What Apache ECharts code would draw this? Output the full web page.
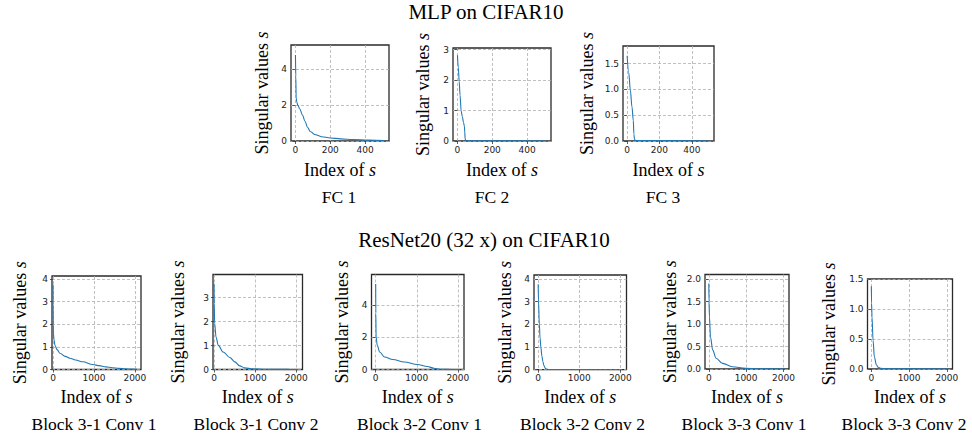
<!DOCTYPE html>
<html><head><meta charset="utf-8">
<script src="https://cdn.jsdelivr.net/npm/echarts@6/dist/echarts.min.js"></script>
<style>html,body{margin:0;padding:0;background:#fff}#c{width:972px;height:438px}</style>
</head><body><div id="c"></div>
<script>
// ---------- data ----------
const mlpTitle = 'MLP on CIFAR10';
const resTitle = 'ResNet20 (32 x) on CIFAR10';
const panelNames = ['FC 1', 'FC 2', 'FC 3',
  'Block 3-1 Conv 1', 'Block 3-1 Conv 2', 'Block 3-2 Conv 1',
  'Block 3-2 Conv 2', 'Block 3-3 Conv 1', 'Block 3-3 Conv 2'];

const fc1Index = [0, 2, 4, 8, 14, 25, 40, 55, 70, 85, 110, 150, 200, 260, 330, 420, 511];
const fc1Value = [4.77, 3.6, 2.4, 2.15, 1.98, 1.78, 1.45, 1.1, 0.75, 0.53, 0.36, 0.24, 0.17, 0.12, 0.08, 0.05, 0.02];
const fc2Index = [0, 5, 10, 15, 21, 28, 35, 40, 42, 44, 47, 55, 511];
const fc2Value = [2.81, 2.4, 1.95, 1.5, 1.0, 0.8, 0.6, 0.48, 0.3, 0.08, 0.02, 0.005, 0.0];
const fc3Index = [0, 10, 20, 30, 38, 42, 45, 50, 511];
const fc3Value = [1.65, 1.32, 0.98, 0.66, 0.4, 0.13, 0.04, 0.01, 0.0];
const b31c1Index = [0, 2, 5, 10, 25, 50, 100, 170, 300, 410, 550, 730, 970, 1130, 1290, 1450, 1610, 1770, 1930, 2047];
const b31c1Value = [3.76, 3.0, 2.0, 1.6, 1.3, 1.05, 0.88, 0.72, 0.58, 0.5, 0.42, 0.34, 0.22, 0.17, 0.115, 0.08, 0.05, 0.03, 0.015, 0.005];
const b31c2Index = [0, 5, 16, 48, 103, 223, 384, 504, 624, 744, 944, 1260, 1820, 2047];
const b31c2Value = [3.58, 2.75, 1.92, 1.36, 1.01, 0.73, 0.5, 0.32, 0.15, 0.07, 0.025, 0.01, 0.004, 0.0];
const b32c1Index = [0, 3, 10, 38, 96, 216, 416, 697, 1017, 1257, 1418, 1577, 1740, 2047];
const b32c1Value = [5.31, 3.5, 2.01, 1.5, 1.09, 0.78, 0.62, 0.47, 0.31, 0.185, 0.08, 0.02, 0.005, 0.0];
const b32c2Index = [0, 8, 28, 45, 65, 90, 115, 140, 170, 200, 260, 2047];
const b32c2Value = [3.76, 3.0, 2.0, 1.4, 1.0, 0.6, 0.35, 0.18, 0.07, 0.03, 0.01, 0.0];
const b33c1Index = [0, 5, 18, 45, 105, 195, 370, 630, 985, 1300, 2047];
const b33c1Value = [1.9, 1.5, 1.16, 0.71, 0.42, 0.24, 0.125, 0.05, 0.015, 0.005, 0.0];
const b33c2Index = [0, 5, 18, 45, 80, 133, 180, 240, 400, 2047];
const b33c2Value = [1.38, 1.1, 0.87, 0.48, 0.2, 0.07, 0.03, 0.01, 0.003, 0.0];

const topXTicks = [0, 200, 400];
const bottomXTicks = [0, 1000, 2000];
const fc1YTicks = [0, 2, 4];
const fc2YTicks = [0, 1, 2, 3];
const fc3YTicks = [0, 0.5, 1.0, 1.5];
const b31c1YTicks = [0, 1, 2, 3, 4];
const b31c2YTicks = [0, 1, 2, 3];
const b32c1YTicks = [0, 2, 4];
const b32c2YTicks = [0, 1, 2, 3, 4];
const b33c1YTicks = [0, 0.5, 1.0, 1.5, 2.0];
const b33c2YTicks = [0, 0.5, 1.0, 1.5];

const seriesIndex = [fc1Index, fc2Index, fc3Index, b31c1Index, b31c2Index, b32c1Index, b32c2Index, b33c1Index, b33c2Index];
const seriesValue = [fc1Value, fc2Value, fc3Value, b31c1Value, b31c2Value, b32c1Value, b32c2Value, b33c1Value, b33c2Value];
const yTicks = [fc1YTicks, fc2YTicks, fc3YTicks, b31c1YTicks, b31c2YTicks, b32c1YTicks, b32c2YTicks, b33c1YTicks, b33c2YTicks];
const xTicks = [topXTicks, topXTicks, topXTicks, bottomXTicks, bottomXTicks, bottomXTicks, bottomXTicks, bottomXTicks, bottomXTicks];

// ---------- layout ----------
const layout = [
  {l: 291, t: 45, w: 98, h: 96, xMin: -25.6, xMax: 537.6, xInt: 200, yMax: 5.33, yInt: 2, dec: 0, gy: 20, gx: 20, sx: 339, sy: 197},
  {l: 453, t: 48, w: 98, h: 93, xMin: -25.6, xMax: 537.6, xInt: 200, yMax: 3.05, yInt: 1, dec: 0, gy: 21, gx: 20, sx: 492, sy: 197},
  {l: 623, t: 46, w: 91, h: 95, xMin: -25.6, xMax: 537.6, xInt: 200, yMax: 1.84, yInt: 0.5, dec: 1, gy: 27, gx: 20, sx: 663, sy: 197},
  {l: 52, t: 276, w: 89, h: 93.5, xMin: -25, xMax: 2150, xInt: 1000, yMax: 4.14, yInt: 1, dec: 0, gy: 23, gx: 18.5, sx: 94, sy: 424},
  {l: 213, t: 274.5, w: 89.5, h: 95, xMin: -25, xMax: 2150, xInt: 1000, yMax: 3.97, yInt: 1, dec: 0, gy: 26, gx: 18.5, sx: 256, sy: 424},
  {l: 371.5, t: 274.5, w: 92.5, h: 95, xMin: -102, xMax: 2150, xInt: 1000, yMax: 5.9, yInt: 2, dec: 0, gy: 20.5, gx: 18.5, sx: 419.5, sy: 424},
  {l: 534, t: 275, w: 92.5, h: 94.7, xMin: -102, xMax: 2150, xInt: 1000, yMax: 4.17, yInt: 1, dec: 0, gy: 20, gx: 18.5, sx: 582.5, sy: 424},
  {l: 705, t: 274.5, w: 84, h: 94.5, xMin: -102, xMax: 2150, xInt: 1000, yMax: 2.1, yInt: 0.5, dec: 1, gy: 26, gx: 18.5, sx: 744, sy: 424},
  {l: 867.5, t: 279, w: 85, h: 90, xMin: -102, xMax: 2150, xInt: 1000, yMax: 1.5, yInt: 0.5, dec: 1, gy: 29.5, gx: 18.5, sx: 904, sy: 424}
];

const serif = 'Liberation Serif';
const tickFont = {fontFamily: 'DejaVu Sans', fontSize: 9, color: '#222'};
const gridLine = {show: true, lineStyle: {color: '#b0b0b0', width: 0.8, type: [3, 2]}};

const grids = [], xAxes = [], yAxes = [], series = [];
layout.forEach((p, i) => {
  grids.push({left: p.l, top: p.t, width: p.w, height: p.h, show: true, borderColor: '#2a2a2a', borderWidth: 1.3, backgroundColor: 'transparent', containLabel: false});
  xAxes.push({
    type: 'value', gridIndex: i, min: p.xMin, max: p.xMax, interval: p.xInt,
    axisLine: {show: false},
    axisTick: {show: true, length: 3, lineStyle: {color: '#333', width: 0.8}, customValues: xTicks[i]},
    axisLabel: Object.assign({margin: 4, customValues: xTicks[i], formatter: v => String(v)}, tickFont),
    splitLine: gridLine,
    name: '{n|Index of }{i|s}', nameLocation: 'middle', nameGap: p.gx,
    nameTextStyle: {fontFamily: serif, fontSize: 18, color: '#000', verticalAlign: 'top',
      rich: {n: {fontFamily: serif, fontSize: 18, color: '#000'}, i: {fontFamily: serif, fontSize: 18, fontStyle: 'italic', color: '#000'}}}
  });
  yAxes.push({
    type: 'value', gridIndex: i, min: 0, max: p.yMax, interval: p.yInt,
    axisLine: {show: false},
    axisTick: {show: true, length: 3, lineStyle: {color: '#333', width: 0.8}, customValues: yTicks[i]},
    axisLabel: Object.assign({margin: 4, customValues: yTicks[i], formatter: v => v.toFixed(p.dec)}, tickFont),
    splitLine: gridLine,
    name: '{n|Singular values }{i|s}', nameLocation: 'middle', nameGap: p.gy, nameRotate: 90,
    nameTextStyle: {fontFamily: serif, fontSize: 18, color: '#000',
      rich: {n: {fontFamily: serif, fontSize: 18, color: '#000'}, i: {fontFamily: serif, fontSize: 18, fontStyle: 'italic', color: '#000'}}}
  });
  series.push({
    type: 'line', xAxisIndex: i, yAxisIndex: i, showSymbol: false, symbol: 'none',
    smooth: 0.35, smoothMonotone: 'x',
    lineStyle: {color: '#1f77b4', width: 1.1}, itemStyle: {color: '#1f77b4'},
    data: seriesIndex[i].map((x, k) => [x, seriesValue[i][k]]),
    silent: true, animation: false, z: 3
  });
});

const graphics = [
  {type: 'text', x: 486, y: 12, style: {text: mlpTitle, font: '21px "Liberation Serif"', fill: '#000', textAlign: 'center', textVerticalAlign: 'middle'}},
  {type: 'text', x: 484, y: 240, style: {text: resTitle, font: '21px "Liberation Serif"', fill: '#000', textAlign: 'center', textVerticalAlign: 'middle'}}
];
layout.forEach((p, i) => {
  graphics.push({type: 'text', x: p.sx, y: p.sy, style: {text: panelNames[i], font: '17.5px "Liberation Serif"', fill: '#000', textAlign: 'center', textVerticalAlign: 'middle'}});
});

const chart = echarts.init(document.getElementById('c'), null, {renderer: 'svg'});
chart.setOption({
  animation: false,
  backgroundColor: '#fff',
  grid: grids, xAxis: xAxes, yAxis: yAxes, series: series,
  graphic: graphics
});
</script>
</body></html>
